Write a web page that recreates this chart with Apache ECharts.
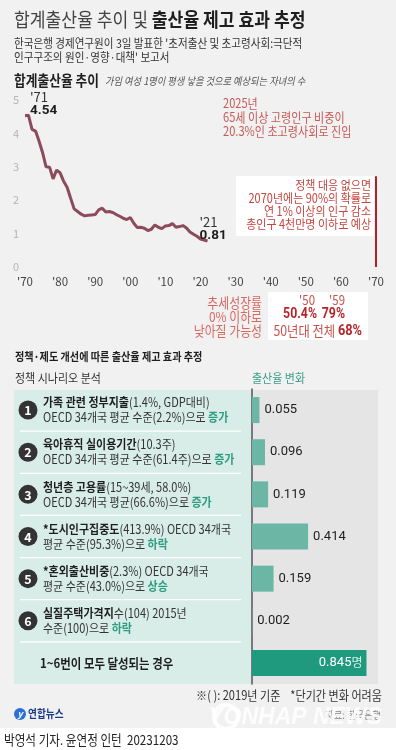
<!DOCTYPE html>
<html>
<head>
<meta charset="utf-8">
<script src="https://cdn.jsdelivr.net/npm/echarts@6/dist/echarts.min.js"></script>
<style>
  html, body { margin: 0; padding: 0; background: #f1f1f1; }
  #chart { width: 396px; height: 750px; }
</style>
</head>
<body>
<div id="chart"></div>
<script>
// 합계출산율 (1970~2022)
const years = [1970, 1971, 1972, 1973, 1974, 1975, 1976, 1977, 1978, 1979,
  1980, 1981, 1982, 1983, 1984, 1985, 1986, 1987, 1988, 1989,
  1990, 1991, 1992, 1993, 1994, 1995, 1996, 1997, 1998, 1999,
  2000, 2001, 2002, 2003, 2004, 2005, 2006, 2007, 2008, 2009,
  2010, 2011, 2012, 2013, 2014, 2015, 2016, 2017, 2018, 2019,
  2020, 2021, 2022];
const tfr = [4.53, 4.54, 4.12, 4.07, 3.77, 3.43, 3.00, 2.99, 2.64, 2.90,
  2.82, 2.57, 2.39, 2.06, 1.74, 1.66, 1.58, 1.53, 1.55, 1.56,
  1.57, 1.71, 1.76, 1.65, 1.66, 1.63, 1.57, 1.52, 1.46, 1.42,
  1.48, 1.31, 1.18, 1.19, 1.16, 1.09, 1.13, 1.26, 1.19, 1.15,
  1.23, 1.24, 1.30, 1.19, 1.21, 1.24, 1.17, 1.05, 0.98, 0.92,
  0.84, 0.81, 0.78];
const gridValues = [1, 2, 3, 4, 5];

// 정책 시나리오
const rowKeys = ['1', '2', '3', '4', '5', '6', '전체'];
const scenarioBold = ['가족 관련 정부지출', '육아휴직 실이용기간', '청년층 고용률', '*도시인구집중도', '*혼외출산비중', '실질주택가격지'];
const scenarioNote = ['(1.4%, GDP대비)', '(10.3주)', '(15~39세, 58.0%)', '(413.9%) OECD 34개국', '(2.3%) OECD 34개국', '수(104) 2015년'];
const scenarioLine2 = ['OECD 34개국 평균 수준(2.2%)으로 ', 'OECD 34개국 평균 수준(61.4주)으로 ', 'OECD 34개국 평균(66.6%)으로 ', '평균 수준(95.3%)으로 ', '평균 수준(43.0%)으로 ', '수준(100)으로 '];
const scenarioDir = ['증가', '증가', '증가', '하락', '상승', '하락'];
const totalText = '1~6번이 모두 달성되는 경우';
const effects = [0.055, 0.096, 0.119, 0.414, 0.159, 0.002, 0.845];

const FONT = '"Noto Sans CJK KR", "Noto Sans", sans-serif';
const SX = 0.88;
const RED = '#c4463f';

const chart = echarts.init(document.getElementById('chart'));

// 눈금선 (2025년까지) + 기준선
const markLines = gridValues.map(v => [
  { coord: [1969.1, v], lineStyle: { color: '#d6d6d6', width: 1, type: 'solid' } },
  { coord: [2025, v] }
]);
markLines.push([
  { coord: [1969.1, 0], lineStyle: { color: '#c6c6c6', width: 1, type: 'solid' } },
  { coord: [2070.6, 0] }
]);
markLines.push([
  { coord: [2025, -0.6], lineStyle: { color: '#e4b8b1', width: 1.5, type: 'solid' } },
  { coord: [2025, 5.45] }
]);
markLines.push([
  { coord: [2070, 0], lineStyle: { color: '#b3202a', width: 2, type: 'solid' } },
  { coord: [2070, 2.72] }
]);

const pointRich = {
  a: { fontSize: 13, color: '#333', lineHeight: 14, fontFamily: FONT },
  b: { fontSize: 13.5, fontWeight: 'bold', color: '#1e1e1e', lineHeight: 14, fontFamily: 'Roboto, ' + FONT }
};

const option = {
  backgroundColor: '#f1f1f1',
  animation: false,
  textStyle: { fontFamily: FONT },
  grid: [
    { left: 25, top: 100, width: 351, height: 167 },
    { left: 252, top: 389, width: 126, height: 295 }
  ],
  xAxis: [
    {
      gridIndex: 0, type: 'value', min: 1970, max: 2070, interval: 10,
      axisLine: { show: false }, axisTick: { show: false }, splitLine: { show: false },
      axisLabel: { formatter: v => "'" + String(v).slice(2), color: '#444', fontSize: 11.5, margin: 9, fontFamily: FONT }
    },
    { gridIndex: 1, type: 'value', min: 0, max: 0.93, show: false }
  ],
  yAxis: [
    {
      gridIndex: 0, type: 'value', min: 0, max: 5, interval: 1,
      axisLine: { show: false }, axisTick: { show: false }, splitLine: { show: false },
      axisLabel: { color: '#b5b5b5', fontSize: 11, margin: 6 }
    },
    {
      gridIndex: 1, type: 'category', inverse: true, data: rowKeys,
      axisLine: { show: true, lineStyle: { color: '#555', width: 1.5 } },
      axisTick: { show: false }, axisLabel: { show: false }, splitLine: { show: false }
    }
  ],
  series: [
    {
      type: 'line', xAxisIndex: 0, yAxisIndex: 0, clip: false, silent: true,
      data: years.map((y, i) => [y, tfr[i]]),
      showSymbol: false,
      lineStyle: { color: '#8b4b5c', width: 3 },
      markLine: { silent: true, symbol: 'none', label: { show: false }, data: markLines },
      markPoint: {
        silent: true,
        data: [
          {
            coord: [1971, 4.54], symbol: 'circle', symbolSize: 2, itemStyle: { color: 'rgba(0,0,0,0)' },
            label: { show: true, position: [2.5, -24.5], formatter: "{a|'71}\n{b|4.54}", rich: pointRich }
          },
          {
            coord: [2021, 0.81], symbol: 'circle', symbolSize: 2, itemStyle: { color: 'rgba(0,0,0,0)' },
            label: { show: true, position: [-3.5, -24], formatter: "{a|'21}\n{b|0.81}", rich: pointRich }
          }
        ]
      }
    },
    {
      type: 'bar', xAxisIndex: 1, yAxisIndex: 1, barWidth: 26, silent: true,
      data: effects.map((v, i) => i < effects.length - 1 ? v : {
        value: v,
        itemStyle: { color: '#1f9a7e' },
        label: {
          position: 'insideRight', distance: 4,
          formatter: p => '{v|' + p.value.toFixed(3) + '}{u|명}',
          rich: {
            v: { color: '#fff', fontSize: 13, fontFamily: 'Roboto, ' + FONT },
            u: { color: '#d8f0ea', fontSize: 12, fontFamily: FONT }
          }
        }
      }),
      itemStyle: { color: '#6cb6a5' },
      label: {
        show: true, position: 'right', distance: 5, color: '#1e1e1e', fontSize: 13,
        fontFamily: 'Roboto, ' + FONT,
        formatter: p => p.value.toFixed(3)
      }
    }
  ]
};

chart.setOption(option);

function txt(x, y, text, o) {
  o = o || {};
  const style = {
    text: text, x: 0, y: 0,
    fill: o.color || '#333',
    fontSize: o.size || 12,
    fontWeight: o.weight || 'normal',
    fontStyle: o.style || 'normal',
    fontFamily: o.family || FONT,
    align: o.align || 'left',
    verticalAlign: o.va || 'middle'
  };
  if (o.lh) style.lineHeight = o.lh;
  if (o.rich) style.rich = o.rich;
  return { type: 'text', x: x, y: y, scaleX: o.sx || SX, silent: true, z: 100, style: style };
}
function rect(x, y, w, h, fill, z) {
  return { type: 'rect', silent: true, z: z || 0, shape: { x: x, y: y, width: w, height: h }, style: { fill: fill } };
}

const grid1 = option.grid[1];
const step = grid1.height / rowKeys.length;
const rowY = rowKeys.map((k, i) => {
  const p = chart.convertToPixel({ yAxisIndex: 1 }, k);
  return isFinite(p) ? p : grid1.top + step * (i + 0.5);
});

const g = [];
// 상단 제목
g.push(txt(14, 20, '{l|합계출산율 추이 및 }{b|출산율 제고 효과 추정}', {
  rich: {
    l: { fontSize: 19.5, fill: '#444', fontFamily: FONT },
    b: { fontSize: 19.5, fontWeight: 'bold', fill: '#1e1e1e', fontFamily: FONT }
  }
}));
g.push(txt(14, 50, "한국은행 경제연구원이 3일 발표한 '초저출산 및 초고령사회:극단적\n인구구조의 원인·영향·대책' 보고서", { size: 12, color: '#333', lh: 14 }));

// 합계출산율 추이
g.push(txt(14, 80, '합계출산율 추이', { size: 14.5, weight: 'bold', color: '#1e1e1e' }));
g.push(txt(105, 81, '가임 여성 1명이 평생 낳을 것으로 예상되는 자녀의 수', { size: 10.5, style: 'italic', color: '#555' }));

g.push(txt(223, 117, '2025년\n65세 이상 고령인구 비중이\n20.3%인 초고령사회로 진입', { size: 12.6, color: '#c65a55', lh: 14 }));

g.push(rect(236, 176, 138, 60, '#ffffff', 1));
g.push(txt(371, 204.5, '정책 대응 없으면\n2070년에는 90%의 확률로\n연 1% 이상의 인구 감소\n총인구 4천만명 이하로 예상', { size: 12.5, color: RED, lh: 12.9, align: 'right' }));

g.push(txt(262, 317, '추세성장률\n0% 이하로\n낮아질 가능성', { size: 13.5, color: '#d6675f', lh: 14, align: 'right' }));
g.push(rect(268, 292, 100, 48, '#ffffff', 1));
g.push(txt(315, 300, "'50", { size: 13, color: '#c9524c', align: 'right' }));
g.push(txt(345, 300, "'59", { size: 13, color: '#c9524c', align: 'right' }));
g.push(txt(317, 314, '50.4%', { size: 14, weight: 'bold', color: '#b5262c', align: 'right', family: 'Roboto, ' + FONT }));
g.push(txt(345, 314, '79%', { size: 14, weight: 'bold', color: '#b5262c', align: 'right', family: 'Roboto, ' + FONT }));
g.push(txt(362, 331, '{n|50년대 전체 }{b|68%}', {
  align: 'right',
  rich: {
    n: { fontSize: 14, fill: '#c9524c', fontFamily: FONT },
    b: { fontSize: 14.5, fontWeight: 'bold', fill: '#b5262c', fontFamily: 'Roboto, ' + FONT }
  }
}));

// 정책 시나리오 분석
g.push(txt(15, 357, '정책·제도 개선에 따른 출산율 제고 효과 추정', { size: 11.5, weight: 'bold', color: '#1e1e1e' }));
g.push(txt(15, 378, '정책 시나리오 분석', { size: 12.5, color: '#333' }));
g.push(txt(252, 378, '출산율 변화', { size: 12.5, color: '#3a9e86' }));

g.push(rect(14, 390, 237, 294, '#d9ede8', 0));
g.push(rect(251, 390, 127, 294, '#e5e5e5', 0));

const rowRich = {
  b: { fontSize: 12.5, fontWeight: 'bold', fill: '#1e1e1e', lineHeight: 15, fontFamily: FONT },
  n: { fontSize: 12.5, fill: '#333', lineHeight: 15, fontFamily: FONT },
  g: { fontSize: 12.5, fontWeight: 'bold', fill: '#2e9c80', lineHeight: 15, fontFamily: FONT }
};
scenarioBold.forEach((name, i) => {
  const y = rowY[i];
  g.push({ type: 'circle', silent: true, z: 90, shape: { cx: 28, cy: y, r: 9.5 }, style: { fill: '#333' } });
  g.push(txt(28, y + 0.5, String(i + 1), { size: 12.5, weight: 'bold', color: '#fff', align: 'center', sx: 1 }));
  g.push(txt(43, y, '{b|' + name + '}{n|' + scenarioNote[i] + '}\n{n|' + scenarioLine2[i] + '}{g|' + scenarioDir[i] + '}', { rich: rowRich }));
});
g.push(txt(40, rowY[6], totalText, { size: 13, weight: 'bold', color: '#1e1e1e' }));
for (let i = 0; i < rowY.length - 1; i++) {
  const y = (rowY[i] + rowY[i + 1]) / 2;
  g.push({ type: 'line', silent: true, z: 1, shape: { x1: 20, y1: y, x2: 241, y2: y }, style: { stroke: '#ffffff', lineWidth: 1.2 } });
}

// 하단
g.push(txt(382, 695, '※( ): 2019년 기준    *단기간 변화 어려움', { size: 12.6, color: '#333', align: 'right' }));
g.push(txt(381, 715, '자료: 한국은행', { size: 10.5, color: '#888', align: 'right' }));
g.push({ type: 'circle', silent: true, z: 101, shape: { cx: 226, cy: 717, r: 12 }, style: { fill: 'none', stroke: 'rgba(255,255,255,0.85)', lineWidth: 4 } });
g.push(txt(382, 718, 'YONHAP NEWS', { size: 23, weight: 'bold', style: 'italic', color: 'rgba(255,255,255,0.82)', align: 'right', family: '"Liberation Sans", sans-serif', sx: 1 }));
g.push({ type: 'circle', silent: true, z: 100, shape: { cx: 20, cy: 714, r: 6 }, style: { fill: '#2b6fd8' } });
g.push(txt(20, 714, 'y', { size: 9, weight: 'bold', style: 'italic', color: '#fff', align: 'center', sx: 1 }));
g.push(txt(28, 714, '연합뉴스', { size: 11, weight: 'bold', color: '#1b3a87' }));
g.push(rect(0, 728, 396, 22, '#ffffff', 50));
g.push(txt(4, 740, '박영석 기자. 윤연정 인턴  20231203', { size: 13.2, color: '#222' }));

chart.setOption({ graphic: { elements: g } });
</script>
</body>
</html>
